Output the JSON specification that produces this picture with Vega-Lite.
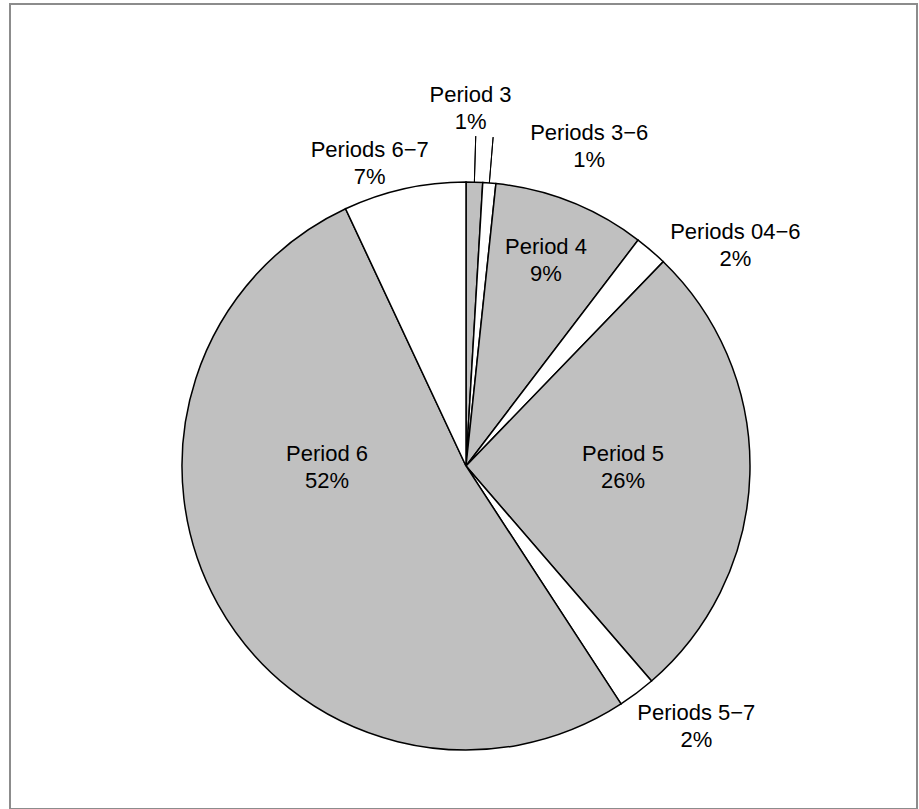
{
  "$schema": "https://vega.github.io/schema/vega-lite/v6.json",
  "width": 907,
  "height": 805,
  "autosize": {"type": "none"},
  "padding": {"left": 10, "top": 4, "right": 2, "bottom": 0},
  "background": "white",
  "config": {
    "view": {"stroke": "#8c8c8c", "strokeWidth": 2},
    "text": {"font": "Liberation Sans", "fontSize": 22, "fill": "black"}
  },
  "data": {
    "values": [
      {"category": "Period 3", "span": "single", "value": 0.94},
      {"category": "Periods 3−6", "span": "range", "value": 0.74},
      {"category": "Period 4", "span": "single", "value": 8.68},
      {"category": "Periods 04−6", "span": "range", "value": 1.86},
      {"category": "Period 5", "span": "single", "value": 26.45},
      {"category": "Periods 5−7", "span": "range", "value": 2.14},
      {"category": "Period 6", "span": "single", "value": 52.22},
      {"category": "Periods 6−7", "span": "range", "value": 6.97}
    ]
  },
  "transform": [
    {"stack": "value", "groupby": [], "as": ["v0", "v1"]},
    {"calculate": "(datum.v0 + datum.v1) / 2", "as": "mid"},
    {"calculate": "datum.category + '\\n' + format(datum.value / 100, '.0%')", "as": "label"}
  ],
  "layer": [
    {
      "mark": {"type": "arc", "radius": 284, "stroke": "black", "strokeWidth": 1.5},
      "encoding": {
        "theta": {"field": "v0", "type": "quantitative", "scale": {"domain": [0, 100]}},
        "theta2": {"field": "v1"},
        "color": {"field": "span", "type": "nominal", "scale": {"domain": ["single", "range"], "range": ["#c0c0c0", "#ffffff"]}, "legend": null},
        "x": {"value": 456},
        "y": {"value": 462}
      }
    },
    {
      "transform": [{"filter": "datum.category == 'Period 3' || datum.category == 'Periods 3−6'"}],
      "mark": {"type": "arc", "radius": 330, "radius2": 284, "stroke": "black", "strokeWidth": 1, "fillOpacity": 0},
      "encoding": {
        "theta": {"field": "mid", "type": "quantitative"},
        "theta2": {"field": "mid"},
        "x": {"value": 456},
        "y": {"value": 462}
      }
    },
    {
      "transform": [{"filter": "datum.category == 'Period 4'"}],
      "mark": {"type": "text", "radius": 222, "dx": -2, "dy": -13, "align": "center", "baseline": "middle", "lineBreak": "\n", "lineHeight": 27},
      "encoding": {"theta": {"field": "mid", "type": "quantitative", "stack": null}, "text": {"field": "label"}, "x": {"value": 456}, "y": {"value": 462}}
    },
    {
      "transform": [{"filter": "datum.category == 'Period 5'"}],
      "mark": {"type": "text", "radius": 157, "dy": -16, "align": "center", "baseline": "middle", "lineBreak": "\n", "lineHeight": 27},
      "encoding": {"theta": {"field": "mid", "type": "quantitative", "stack": null}, "text": {"field": "label"}, "x": {"value": 456}, "y": {"value": 462}}
    },
    {
      "transform": [{"filter": "datum.category == 'Period 6'"}],
      "mark": {"type": "text", "radius": 159, "dy": -89, "align": "center", "baseline": "middle", "lineBreak": "\n", "lineHeight": 27},
      "encoding": {"theta": {"field": "mid", "type": "quantitative", "stack": null}, "text": {"field": "label"}, "x": {"value": 456}, "y": {"value": 462}}
    },
    {
      "transform": [{"filter": "datum.category == 'Period 3'"}],
      "mark": {"type": "text", "radius": 358, "dx": -6, "dy": -13, "align": "center", "baseline": "middle", "lineBreak": "\n", "lineHeight": 27},
      "encoding": {"theta": {"field": "mid", "type": "quantitative", "stack": null}, "text": {"field": "label"}, "x": {"value": 456}, "y": {"value": 462}}
    },
    {
      "transform": [{"filter": "datum.category == 'Periods 3−6'"}],
      "mark": {"type": "text", "radius": 343, "dx": 95, "dy": 9, "align": "center", "baseline": "middle", "lineBreak": "\n", "lineHeight": 27},
      "encoding": {"theta": {"field": "mid", "type": "quantitative", "stack": null}, "text": {"field": "label"}, "x": {"value": 456}, "y": {"value": 462}}
    },
    {
      "transform": [{"filter": "datum.category == 'Periods 04−6'"}],
      "mark": {"type": "text", "radius": 349, "dx": 42, "dy": 31, "align": "center", "baseline": "middle", "lineBreak": "\n", "lineHeight": 27},
      "encoding": {"theta": {"field": "mid", "type": "quantitative", "stack": null}, "text": {"field": "label"}, "x": {"value": 456}, "y": {"value": 462}}
    },
    {
      "transform": [{"filter": "datum.category == 'Periods 5−7'"}],
      "mark": {"type": "text", "radius": 350, "dx": 20, "dy": -33, "align": "center", "baseline": "middle", "lineBreak": "\n", "lineHeight": 27},
      "encoding": {"theta": {"field": "mid", "type": "quantitative", "stack": null}, "text": {"field": "label"}, "x": {"value": 456}, "y": {"value": 462}}
    },
    {
      "transform": [{"filter": "datum.category == 'Periods 6−7'"}],
      "mark": {"type": "text", "radius": 319, "dx": -27, "dy": -5, "align": "center", "baseline": "middle", "lineBreak": "\n", "lineHeight": 27},
      "encoding": {"theta": {"field": "mid", "type": "quantitative", "stack": null}, "text": {"field": "label"}, "x": {"value": 456}, "y": {"value": 462}}
    }
  ]
}
